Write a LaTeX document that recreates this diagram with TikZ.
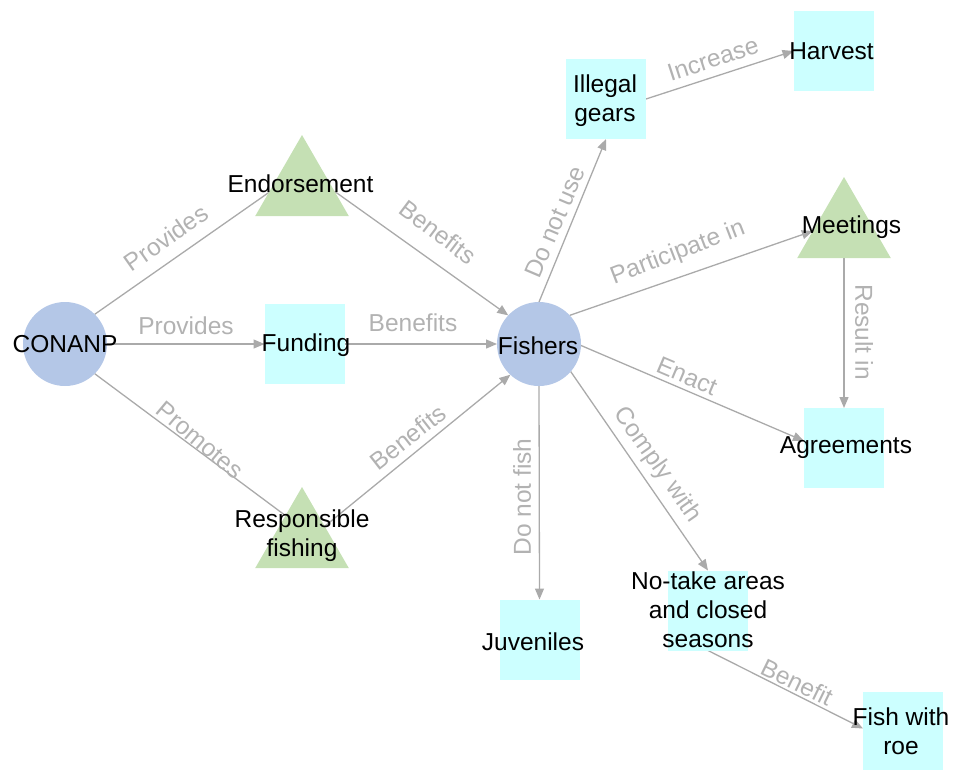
\documentclass[tikz,border=0pt]{standalone}
\usepackage{fontspec}
\setmainfont{Liberation Sans}
\usetikzlibrary{shapes.geometric,arrows.meta}
\pgfdeclarelayer{bg}
\pgfsetlayers{bg,main}
\definecolor{circfill}{RGB}{180,199,231}
\definecolor{boxfill}{RGB}{204,255,255}
\definecolor{trifill}{RGB}{197,224,180}
\definecolor{edgecol}{RGB}{170,170,170}
\definecolor{labcol}{RGB}{178,178,178}
\begin{document}
\begin{tikzpicture}[x=1pt,y=-1pt,
 circ/.style={circle,fill=circfill,minimum size=84pt,inner sep=0pt,outer sep=0pt},
 box/.style={rectangle,fill=boxfill,minimum size=80pt,inner sep=0pt,outer sep=0pt},
 tri/.style={regular polygon,regular polygon sides=3,fill=trifill,minimum size=108pt,inner sep=0pt,outer sep=0pt},
 txt/.style={font=\fontsize{24.5}{29}\selectfont,align=center,inner sep=0pt,text=black},
 lab/.style={font=\fontsize{24.5}{29}\selectfont,inner sep=0pt,text=labcol},
 conn/.style={draw=edgecol,line width=1.3pt,-{Triangle[length=11pt,width=9pt]}},
 plainconn/.style={draw=edgecol,line width=1.3pt}]
\useasboundingbox (0,0) rectangle (955,769);
% shapes
\node[circ] (conanp) at (65,344) {};
\node[box] (funding) at (304.5,344) {};
\node[tri] (endors) at (302,189) {};
\node[tri] (resp) at (302,541) {};
\node[circ] (fishers) at (539,344) {};
\node[box] (illegal) at (606,99) {};
\node[box] (harvest) at (833.5,51) {};
\node[tri] (meet) at (844,231) {};
\node[box] (agree) at (844,448) {};
\node[box] (notake) at (708,610.5) {};
\node[box] (juv) at (539.5,639.5) {};
\node[box] (roe) at (903,732) {};
% texts
\node[txt] (tconanp) at (65,344) {CONANP};
\node[txt] (tfunding) at (306,345.5) {Funding};
\node[txt] (tendors) at (300.5,183.5) {Endorsement};
\node[txt] (tresp) at (302,536) {Responsible\\fishing};
\node[txt] (tfishers) at (538,346) {Fishers};
\node[txt] (tillegal) at (605,100.5) {Illegal\\gears};
\node[txt] (tharvest) at (831.5,51.5) {Harvest};
\node[txt] (tmeet) at (851.5,227.5) {Meetings};
\node[txt] (tagree) at (846,447.5) {Agreements};
\node[txt] (tnotake) at (708,609.5) {No-take areas\\and closed\\seasons};
\node[txt] (tjuv) at (533,642) {Juveniles};
\node[txt] (troe) at (901,731.5) {Fish with\\roe};
% connectors
\begin{pgfonlayer}{bg}
\draw[plainconn] (conanp.45) -- (endors.186);
\draw[conn] (conanp.east) -- (funding.west);
\draw[plainconn] (conanp.-45) -- (resp.123);
\draw[conn] (endors.-4) -- (fishers.137);
\draw[conn] (funding.east) -- (fishers.west);
\draw[conn] (resp.33) -- (fishers.-133);
\draw[conn] (fishers.90) -- (illegal.south);
\draw[conn] (illegal.east) -- (harvest.west);
\draw[conn] (fishers.43) -- (meet.180);
\draw[conn] (meet.-90) -- (agree.north);
\draw[conn] (fishers.-2) -- (agree.170);
\draw[conn] (fishers.-41) -- (notake.north);
\draw[conn] (fishers.south) -- (juv.north);
\draw[conn] (notake.south) -- (roe.175);
\end{pgfonlayer}
% connector labels
\node[lab,rotate=35] (l1) at (166,238) {Provides};
\node[lab] (l2) at (186,325.5) {Provides};
\node[lab,rotate=-40] (l3) at (200,440) {Promotes};
\node[lab,rotate=-37] (l4) at (438,232) {Benefits};
\node[lab] (l5) at (413,323) {Benefits};
\node[lab,rotate=38] (l6) at (408,437) {Benefits};
\node[lab,rotate=67] (l7) at (555,222) {Do not use};
\node[lab,rotate=18] (l8) at (713,59) {Increase};
\node[lab,rotate=21] (l9) at (678,253) {Participate in};
\node[lab,rotate=-90] (l10) at (864,332) {Result in};
\node[lab,rotate=-23] (l11) at (687,376) {Enact};
\node[lab,rotate=-55] (l12) at (657,465) {Comply with};
\node[lab,rotate=90] (l13) at (522,497) {Do not fish};
\node[lab,rotate=-26] (l14) at (797,682) {Benefit};
\end{tikzpicture}
\end{document}
